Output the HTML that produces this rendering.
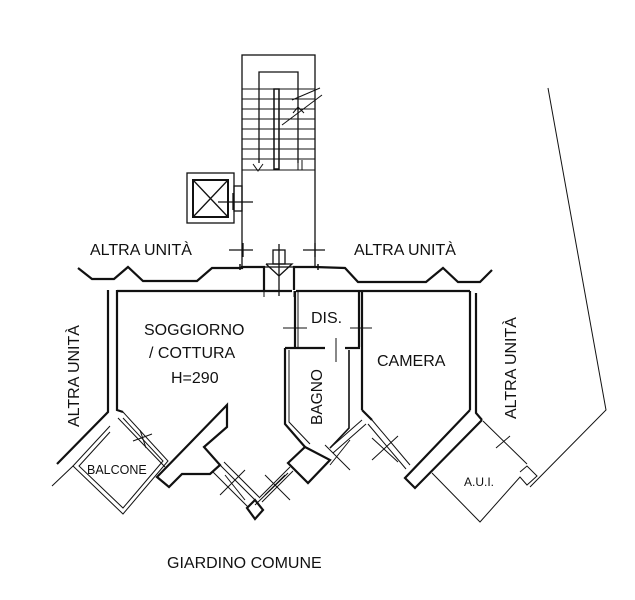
<!DOCTYPE html>
<html><head><meta charset="utf-8"><style>
html,body{margin:0;padding:0;background:#fff;}
svg{display:block;}
text{font-family:"Liberation Sans",sans-serif;fill:#111;}
</style></head><body>
<svg width="635" height="600" viewBox="0 0 635 600" xmlns="http://www.w3.org/2000/svg">
<g fill="none" stroke="#111" stroke-width="1.3">
<rect x="242" y="55" width="73" height="212"/>
<polyline points="259,163 259,72 298,72 298,163"/>
<g stroke-width="1">
<line x1="242" y1="89" x2="315" y2="89"/><line x1="242" y1="99" x2="315" y2="99"/>
<line x1="242" y1="109" x2="315" y2="109"/><line x1="242" y1="119" x2="315" y2="119"/>
<line x1="242" y1="129" x2="315" y2="129"/><line x1="242" y1="139" x2="315" y2="139"/>
<line x1="242" y1="149" x2="315" y2="149"/><line x1="242" y1="159" x2="315" y2="159"/>
<line x1="242" y1="170" x2="315" y2="170"/>
<line x1="292" y1="100" x2="320" y2="88"/><line x1="282" y1="125" x2="322" y2="95"/>
<polyline points="253,164 258,171 263,164"/>
<polyline points="293,113 298,107 304,113"/>
<line x1="298" y1="160" x2="298" y2="170"/><line x1="302" y1="160" x2="302" y2="170"/>
</g>
<rect x="274" y="89" width="5" height="80" stroke-width="1.5"/>
<rect x="187" y="173" width="47" height="50"/>
<rect x="193" y="180" width="35" height="37" stroke-width="2"/>
<line x1="193" y1="180" x2="228" y2="217"/><line x1="228" y1="180" x2="193" y2="217"/>
<rect x="234" y="186" width="8" height="25"/>
<line x1="218" y1="202" x2="253" y2="202"/><line x1="233" y1="193" x2="233" y2="210"/>
<line x1="229" y1="250" x2="253" y2="250"/><line x1="243" y1="243" x2="243" y2="257"/>
<line x1="303" y1="250" x2="325" y2="250"/><line x1="315" y1="243" x2="315" y2="257"/>
<rect x="273" y="250" width="12" height="14"/>
<polyline points="266,264 292,264 279,276 266,264"/>
<line x1="279" y1="244" x2="279" y2="296"/>
</g>
<g fill="none" stroke="#111" stroke-width="2.2">
<polyline points="78,268 92,279 114,279 128,267 143,281 197,281 212,268 235,268"/>
<polyline points="235,268 242,268 242,267 264,267 264,290"/>
<polyline points="294,290 294,267 315,267 345,268 358,282 426,282 443,268 458,282 480,282 492,270"/>
<line x1="240" y1="264" x2="240" y2="270" stroke-width="1.5"/>
<line x1="318" y1="264" x2="318" y2="270" stroke-width="1.5"/>
<line x1="117" y1="291" x2="292" y2="291"/>
<line x1="296" y1="291" x2="470" y2="291"/>
<line x1="264" y1="291" x2="264" y2="297" stroke-width="1"/>
<line x1="294" y1="291" x2="294" y2="297" stroke-width="1"/>
<polyline points="108,290 108,412 57,464"/>
<polyline points="117,290 117,410 123,412"/>
<line x1="295" y1="291" x2="295" y2="347"/>
<line x1="298" y1="291" x2="298" y2="347" stroke-width="1"/>
<line x1="359" y1="291" x2="359" y2="347"/>
<line x1="362" y1="291" x2="362" y2="410"/>
<polyline points="285,348 325,348"/><polyline points="345,348 360,348"/>
<polyline points="285,348 285,424 305,447"/>
<polyline points="289,350 289,422 310,444" stroke-width="1"/>
<polyline points="349,350 349,428 330,448" stroke-width="1.6"/>
<polyline points="362,410 372,420"/>
<line x1="470" y1="291" x2="470" y2="410"/>
<polyline points="470,410 405,478 415,488 482,420"/>
<polyline points="476,293 476,413 482,420"/>
<polygon points="227,405 157,477 169,487 182,474 210,474 220,465 204,447 227,427"/>
<polygon points="247,508 255,500 263,510 255,519"/>
<polygon points="288,463 305,447 330,460 308,483"/>
</g>
<g fill="none" stroke="#111" stroke-width="1">
<polyline points="123,412 168,461 123,514 73,466 110,426"/>
<polyline points="123,418 163,461 123,508 79,466 110,432"/>
<line x1="118" y1="418" x2="165" y2="467"/>
<line x1="52" y1="486" x2="73" y2="466"/>
<line x1="133" y1="441" x2="152" y2="434"/><line x1="140" y1="430" x2="146" y2="448"/>
<line x1="220" y1="465" x2="255" y2="500"/><line x1="224" y1="462" x2="259" y2="497"/>
<line x1="213" y1="472" x2="248" y2="507"/>
<line x1="259" y1="498" x2="290" y2="467"/><line x1="262" y1="502" x2="293" y2="471"/>
<line x1="255" y1="505" x2="288" y2="473"/>
<line x1="220" y1="495" x2="245" y2="470"/><line x1="225" y1="475" x2="245" y2="500"/>
<line x1="265" y1="475" x2="290" y2="500"/><line x1="265" y1="495" x2="285" y2="475"/>
<line x1="330" y1="448" x2="362" y2="420"/><line x1="333" y1="453" x2="366" y2="424"/>
<line x1="325" y1="445" x2="350" y2="470"/><line x1="330" y1="465" x2="350" y2="440"/>
<line x1="372" y1="420" x2="410" y2="465"/><line x1="368" y1="424" x2="406" y2="469"/>
<line x1="372" y1="460" x2="398" y2="436"/><line x1="372" y1="438" x2="398" y2="462"/>
<line x1="483" y1="421" x2="527" y2="464"/>
<line x1="496" y1="448" x2="510" y2="436"/>
<polyline points="432,473 480,522 520,477 527,485 537,476 527,466 520,472"/>
<polyline points="548,88 606,410 530,487"/>
<line x1="283" y1="328" x2="307" y2="328"/><line x1="350" y1="328" x2="372" y2="328"/>
<line x1="336" y1="338" x2="336" y2="362"/>
</g>
<g font-size="16">
<text x="90" y="255">ALTRA UNITÀ</text>
<text x="354" y="255">ALTRA UNITÀ</text>
<text x="144" y="335">SOGGIORNO</text>
<text x="149" y="358">/ COTTURA</text>
<text x="171" y="383">H=290</text>
<text x="311" y="323">DIS.</text>
<text x="377" y="366">CAMERA</text>
<text x="167" y="568">GIARDINO COMUNE</text>
<text transform="translate(79,427) rotate(-90)">ALTRA UNITÀ</text>
<text transform="translate(516,419) rotate(-90)">ALTRA UNITÀ</text>
<text transform="translate(322,425) rotate(-90)" font-size="15.5">BAGNO</text>
</g>
<text x="87" y="474" font-size="12.5">BALCONE</text>
<text x="464" y="486" font-size="12">A.U.I.</text>
</svg>
</body></html>
